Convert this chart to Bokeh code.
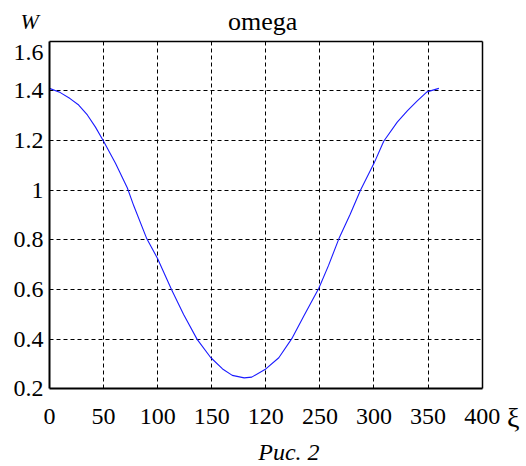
from bokeh.plotting import figure
from bokeh.models import Range1d, FixedTicker, Label, LinearAxis, Grid
from bokeh.embed import file_html
from bokeh.resources import INLINE

# Data
xi = [0, 10, 19, 27, 35, 42.5, 50, 61, 72, 78, 90, 100, 113, 124, 136.5, 149,
      160, 169, 180, 187, 200, 212, 224, 235, 249, 258, 267.5, 278, 287.5,
      300, 309, 321.5, 331, 340, 349, 360]
w = [1.41, 1.393, 1.369, 1.343, 1.303, 1.254, 1.197, 1.108, 1.009, 0.936,
     0.804, 0.724, 0.598, 0.499, 0.399, 0.326, 0.28, 0.254, 0.244, 0.247,
     0.28, 0.325, 0.402, 0.492, 0.605, 0.697, 0.804, 0.903, 1.0, 1.108,
     1.197, 1.274, 1.32, 1.36, 1.396, 1.41]

x_ticks = [0, 50, 100, 150, 200, 250, 300, 350, 400]
x_tick_labels = ["0", "50", "100", "150", "120", "250", "300", "350", "400"]
y_ticks = [0.2, 0.4, 0.6, 0.8, 1.0, 1.2, 1.4, 1.6]
y_tick_labels = ["0.2", "0.4", "0.6", "0.8", "1", "1.2", "1.4", ""]
x_lim = (0, 400)
y_lim = (0.2, 1.6)

title_text = "omega"
y_name = "W"
x_name = "ξ"
caption = "Рис. 2"
top_label = "1.6"

FONT = "Liberation Serif"

# the frame covers the whole canvas; the axes box is drawn with fixed-location axes
p = figure(width=526, height=466, output_backend="svg", toolbar_location=None,
           x_range=Range1d(-45.3, 441.0), y_range=Range1d(-0.113, 1.764),
           x_axis_location=None, y_axis_location=None,
           min_border=0)
p.background_fill_color = "white"
p.border_fill_color = "white"
p.outline_line_color = None
p.grid.visible = False


def make_axis(loc, bounds, ticks, overrides, standoff, width):
    ax = LinearAxis(fixed_location=loc, bounds=bounds,
                    ticker=FixedTicker(ticks=ticks),
                    major_label_overrides=overrides)
    ax.major_tick_in = 0
    ax.major_tick_out = 0
    ax.minor_tick_in = 0
    ax.minor_tick_out = 0
    ax.axis_line_color = "black"
    ax.axis_line_width = width
    ax.major_label_text_font = FONT
    ax.major_label_text_font_size = "24px"
    ax.major_label_text_color = "black"
    ax.major_label_standoff = standoff
    return ax


# grid lines
has_cross = "cross_bounds" in Grid.properties()
if has_cross:
    gx = Grid(dimension=0, ticker=FixedTicker(ticks=x_ticks[1:-1]),
              bounds=x_lim, cross_bounds=y_lim)
    gy = Grid(dimension=1, ticker=FixedTicker(ticks=y_ticks[1:-1]),
              bounds=y_lim, cross_bounds=x_lim)
    for g in (gx, gy):
        g.grid_line_color = "black"
        g.grid_line_dash = "4 3"
        g.grid_line_width = 1
        p.add_layout(g)
else:
    vx = x_ticks[1:-1]
    p.segment(x0=vx, y0=[y_lim[0]] * len(vx), x1=vx, y1=[y_lim[1]] * len(vx),
              line_color="black", line_dash="4 3", line_width=1)
    hy = y_ticks[1:-1]
    p.segment(x0=[x_lim[0]] * len(hy), y0=hy, x1=[x_lim[1]] * len(hy), y1=hy,
              line_color="black", line_dash="4 3", line_width=1)

p.line(xi, w, line_color="#1a1aff", line_width=1.1)

p.add_layout(make_axis(y_lim[0], x_lim, x_ticks,
                       {t: s for t, s in zip(x_ticks, x_tick_labels)}, 20, 2),
             "below")
p.add_layout(make_axis(x_lim[0], y_lim, y_ticks,
                       {t: s for t, s in zip(y_ticks, y_tick_labels)}, 6, 2),
             "left")
p.add_layout(make_axis(y_lim[1], x_lim, [], {}, 6, 1.5), "above")
p.add_layout(make_axis(x_lim[1], y_lim, [], {}, 6, 1.5), "right")

# top tick label "1.6" (drawn slightly below the frame top, as in the reference)
p.add_layout(Label(x=-5.5, y=1.5545, text=top_label, text_font=FONT,
                   text_font_size="24px", text_align="right",
                   text_baseline="middle", text_color="black"))

p.add_layout(Label(x=197, y=1.679, text=title_text, text_font=FONT,
                   text_font_size="26px", text_align="center",
                   text_baseline="alphabetic", text_color="black"))
p.add_layout(Label(x=-26.8, y=1.679, text=y_name, text_font=FONT,
                   text_font_size="22px", text_font_style="italic",
                   text_align="left", text_baseline="alphabetic",
                   text_color="black"))
p.add_layout(Label(x=423, y=0.086, text=x_name, text_font=FONT,
                   text_font_size="28px", text_align="left",
                   text_baseline="alphabetic", text_color="black"))
p.add_layout(Label(x=193, y=-0.053, text=caption, text_font=FONT,
                   text_font_size="24px", text_font_style="italic",
                   text_align="left", text_baseline="alphabetic",
                   text_color="black"))

open("out.html", "w").write(file_html(p, INLINE))
